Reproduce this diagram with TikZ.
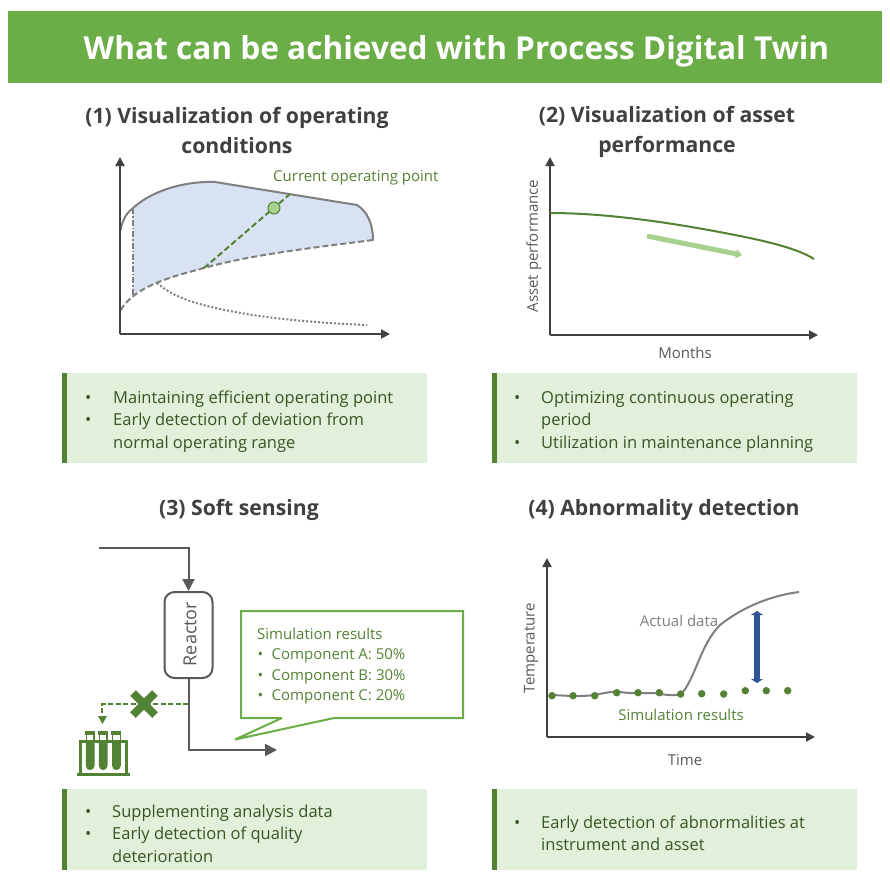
\documentclass[tikz,border=0pt]{standalone}
\usepackage{fontspec}
\setmainfont{Open Sans}
\usetikzlibrary{arrows.meta,calc}
\definecolor{hdr}{HTML}{6BAE47}
\definecolor{dgreen}{HTML}{548235}
\definecolor{tgreen}{HTML}{375623}
\definecolor{lgreen}{HTML}{E2EFDA}
\definecolor{mgreen}{HTML}{A9D18E}
\definecolor{lblue}{HTML}{D9E2F3}
\definecolor{gr}{HTML}{595959}
\definecolor{gr2}{HTML}{7F7F7F}
\definecolor{hd}{HTML}{404040}
\definecolor{blu}{HTML}{2F5597}
\tikzset{
 x=1pt,y=-1pt,
 axis/.style={draw=hd,line width=2pt,-{Triangle[length=9pt,width=9pt]}},
 heading/.style={font=\fontsize{21.2}{30}\selectfont\bfseries,text=hd,align=center,inner sep=0},
 lab/.style={font=\fontsize{15}{17}\selectfont,text=gr,inner sep=0},
 glab/.style={font=\fontsize{15}{17}\selectfont,text=dgreen,inner sep=0},
 panel/.style={fill=lgreen,draw=none,anchor=north west,inner sep=0},
 bar/.style={fill=dgreen,draw=none,anchor=north west,inner sep=0,minimum width=5pt},
 btext/.style={font=\fontsize{16.5}{22.5}\selectfont,text=tgreen,anchor=base west,inner sep=0},
 pipe/.style={draw=gr,line width=2pt},
}
\newcommand{\panelbox}[4]{%
 \node[panel,minimum width=365pt,minimum height=#3pt] (#4) at (#1,#2) {};
 \node[bar,minimum height=#3pt] (#4bar) at (#1,#2) {};
}
\begin{document}
\begin{tikzpicture}
\useasboundingbox (0,0) rectangle (890,871);
\fill[white] (0,0) rectangle (890,871);
% header
\node[fill=hdr,anchor=north west,minimum width=874pt,minimum height=72pt,inner sep=0] (header) at (8,11) {};
\node[font=\fontsize{31.6}{38}\selectfont\bfseries,text=white,inner sep=0] (title) at (456.5,51) {What can be achieved with Process Digital Twin};
% headings
\node[heading] (h1) at (237,130) {(1) Visualization of operating\\conditions};
\node[heading] (h2) at (667,132) {(2) Visualization of asset\\performance};
\node[heading] (h3) at (239,510) {(3) Soft sensing};
\node[heading] (h4) at (664,510) {(4) Abnormality detection};
% boxes
\panelbox{62}{373}{90}{b1}
\panelbox{492}{373}{90}{b2}
\panelbox{62}{789}{81}{b3}
\panelbox{492}{789}{81}{b4}
\node[btext] (t1a) at (113,403) {Maintaining efficient operating point};
\node[btext] (t1b) at (113,425) {Early detection of deviation from};
\node[btext] (t1c) at (113,448) {normal operating range};
\node[btext] (t1p) at (85,403) {•};
\node[btext] (t1q) at (85,425) {•};
\node[btext] (t2a) at (541,403) {Optimizing continuous operating};
\node[btext] (t2b) at (541,425) {period};
\node[btext] (t2c) at (541,448) {Utilization in maintenance planning};
\node[btext] (t2p) at (514,403) {•};
\node[btext] (t2q) at (514,448) {•};
\node[btext] (t3a) at (112,817) {Supplementing analysis data};
\node[btext] (t3b) at (112,839) {Early detection of quality};
\node[btext] (t3c) at (112,862) {deterioration};
\node[btext] (t3p) at (85,817) {•};
\node[btext] (t3q) at (85,839) {•};
\node[btext] (t4a) at (541,828) {Early detection of abnormalities at};
\node[btext] (t4b) at (541,850) {instrument and asset};
\node[btext] (t4p) at (514,828) {•};
% Chart 1
\coordinate (o1) at (120,334);
\coordinate (y1) at (120,157);
\coordinate (x1) at (390,334);
\fill[lblue] (133,208) .. controls (155,188) and (190,181) .. (215,182) -- (357,205) .. controls (368,212) and (373,225) .. (373,240) .. controls (310,248) and (250,255) .. (204,268) .. controls (175,276) and (150,283) .. (133,295) -- cycle;
\draw[gr2,line width=2pt,line cap=round] (120.5,230) .. controls (123,218) and (127,213) .. (133,208) .. controls (155,188) and (190,181) .. (215,182) -- (357,205) .. controls (368,212) and (373,225) .. (373,240);
\draw[gr2,line width=2pt,dash pattern=on 6pt off 3pt] (373,240) .. controls (310,248) and (250,255) .. (204,268) .. controls (175,276) and (135,285) .. (120,311);
\draw[gr2,line width=1.6pt,dash pattern=on 6pt off 2pt on 1.5pt off 2pt] (133,208) -- (133,295);
\draw[gr2,line width=2pt,dash pattern=on 2pt off 2pt] (157,283) .. controls (175,298) and (195,304) .. (230,311) .. controls (270,319) and (320,323) .. (367,325);
\draw[dgreen,line width=2pt,dash pattern=on 6pt off 3pt] (204,268) -- (290,194);
\node[circle,fill=mgreen,draw=dgreen,line width=1pt,minimum size=12pt,inner sep=0] (pt) at (274,208) {};
\draw[axis] (o1) -- (y1);
\draw[axis] (o1) -- (x1);
\node[glab,anchor=west] (cur) at (273,178) {Current operating point};
% Chart 2
\coordinate (o2) at (550,335);
\coordinate (y2) at (550,157);
\coordinate (x2) at (818,335);
\draw[axis] (o2) -- (y2);
\draw[axis] (o2) -- (x2);
\draw[dgreen,line width=2pt] (550,213) .. controls (610,213) and (680,224) .. (740,236) .. controls (775,243) and (800,250) .. (814,259);
\draw[mgreen,line width=5pt,-{Triangle[length=6pt,width=9pt]}] (647,236) -- (742,255);
\node[lab,rotate=90] (yl2) at (534,246) {Asset performance};
\node[lab] (xl2) at (685,353) {Months};
% Chart 3
\node[draw=gr,line width=2pt,fill=white,rounded corners=10pt,minimum width=48pt,minimum height=86pt,inner sep=0] (reactor) at (188.5,635) {};
\node[rotate=90,font=\fontsize{18}{20}\selectfont,text=gr,inner sep=0] (rl) at (190,634) {Reactor};
\coordinate (in) at (99,548);
\coordinate (bend) at (188.5,548);
\coordinate (outb) at (188.5,750);
\coordinate (outp) at (277,750);
\coordinate (tap) at (188,704);
\coordinate (tapb) at (102,704);
\draw[pipe,-{Triangle[length=12pt,width=12pt]}] (in) -- (bend) -- (reactor.north);
\draw[pipe,-{Triangle[length=12pt,width=12pt]}] (reactor.south) -- (outb) -- (outp);
\draw[dgreen,line width=2pt,dash pattern=on 5pt off 2.5pt] (tap) -- (tapb) -- (102,716);
\draw[fill=dgreen,draw=none] (98,716) -- (107,716) -- (102.5,724) -- cycle;
\node[inner sep=0,minimum size=1pt] (xm) at (144,704) {};
\draw[dgreen,line width=8pt] ($(xm)+(-11,-11)$) -- ($(xm)+(11,11)$);
\draw[dgreen,line width=8pt] ($(xm)+(-11,11)$) -- ($(xm)+(11,-11)$);
% callout
\draw[draw=hdr,line width=2pt,fill=white,miter limit=3] (241,611) -- (463,611) -- (463,718) -- (334,718) -- (235,739.5) -- (282,718) -- (241,718) -- cycle;
\node[glab,anchor=north west,align=left,font=\fontsize{15}{20.3}\selectfont] (sim) at (257,628) {Simulation results\\\hbox to 14.5pt{\hskip0.5pt•\hfil}Component A: 50\%\\\hbox to 14.5pt{\hskip0.5pt•\hfil}Component B: 30\%\\\hbox to 14.5pt{\hskip0.5pt•\hfil}Component C: 20\%};
% test tubes
\foreach \xx in {90.2,103.2,116.4}{
 \fill[dgreen] (\xx-5,731) rectangle (\xx+5,734.5);
 \draw[dgreen,line width=1.2pt] (\xx-3.8,734) -- (\xx-3.8,741);
 \draw[dgreen,line width=1.2pt] (\xx+3.8,734) -- (\xx+3.8,741);
 \fill[dgreen] (\xx-4.4,740) -- (\xx+4.4,740) -- (\xx+4.4,765.5) .. controls (\xx+4.4,771.5) and (\xx-4.4,771.5) .. (\xx-4.4,765.5) -- cycle;
}
\fill[dgreen] (79,739.5) rectangle (127.5,742.5);
\fill[dgreen] (79,739.5) rectangle (81.5,775);
\fill[dgreen] (125,739.5) rectangle (127.5,775);
\fill[dgreen] (77,772.5) rectangle (130,776);
% Chart 4
\coordinate (o4) at (547,737);
\coordinate (y4) at (547,558);
\coordinate (x4) at (815,737);
\draw[axis] (o4) -- (y4);
\draw[axis] (o4) -- (x4);
\draw[gr2,line width=2pt] (552,695) .. controls (565,695.5) and (580,697) .. (594,695) .. controls (605,693) and (612,691) .. (620,692) .. controls (635,694) and (640,693) .. (655,693) .. controls (665,695) and (675,696) .. (681,694) .. controls (695,680) and (700,645) .. (720,625) .. controls (745,605) and (775,595) .. (799,592);
\foreach \i/\a/\b in {1/552/695.7,2/573/695.7,3/594.7/695.7,4/616.7/692.7,5/638/692.7,6/659.3/692.7,7/680.7/694,8/701.7/693.7,9/723.7/694,10/745.3/690.7,11/766.3/690.7,12/787.7/690.7}
 \node[circle,fill=dgreen,minimum size=7.5pt,inner sep=0] (d\i) at (\a,\b) {};
\coordinate (a4t) at (757,611);
\coordinate (a4b) at (757,683);
\draw[blu,line width=5.5pt,{Triangle[length=4pt,width=12pt]}-{Triangle[length=4pt,width=12pt]}] (a4t) -- (a4b);
\node[lab,text=gr2] (ad) at (679,621) {Actual data};
\node[glab] (sr) at (681,715) {Simulation results};
\node[lab,rotate=90] (yl4) at (531,648) {Temperature};
\node[lab] (xl4) at (685,760) {Time};
\end{tikzpicture}
\end{document}
